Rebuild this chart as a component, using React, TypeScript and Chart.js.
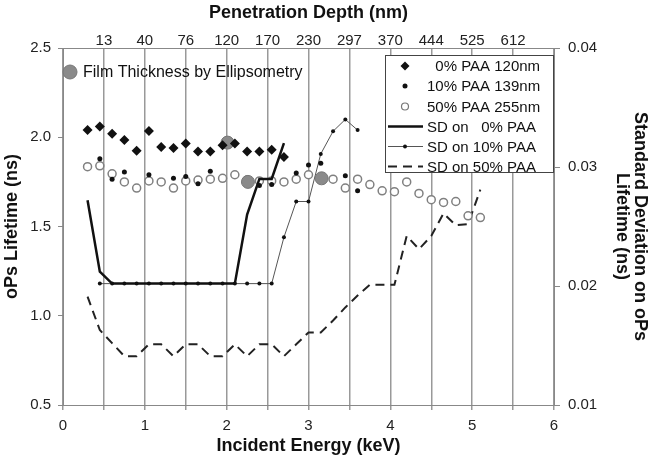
import React, { useEffect, useRef } from 'react';
import { Chart, registerables } from 'chart.js';

Chart.register(...registerables);

// ---------- data ----------
// 0% PAA 120nm (diamonds)
const E_PAA0 = [0.3, 0.45, 0.6, 0.75, 0.9, 1.05, 1.2, 1.35, 1.5, 1.65, 1.8, 1.95, 2.1, 2.25, 2.4, 2.55, 2.7];
const LT_PAA0 = [2.04, 2.06, 2.02, 1.985, 1.925, 2.035, 1.945, 1.94, 1.965, 1.92, 1.92, 1.955, 1.965, 1.92, 1.92, 1.93, 1.89];

// 10% PAA 139nm (small dots)
const E_PAA10 = [0.45, 0.6, 0.75, 1.05, 1.35, 1.5, 1.65, 1.8, 2.4, 2.55, 2.85, 3.0, 3.15, 3.45, 3.6];
const LT_PAA10 = [1.88, 1.765, 1.805, 1.79, 1.77, 1.78, 1.74, 1.81, 1.73, 1.735, 1.8, 1.845, 1.855, 1.785, 1.7];

// 50% PAA 255nm (open circles)
const E_PAA50 = [0.3, 0.45, 0.6, 0.75, 0.9, 1.05, 1.2, 1.35, 1.5, 1.65, 1.8, 1.95, 2.1, 2.25, 2.4, 2.55, 2.7,
  2.85, 3.0, 3.15, 3.3, 3.45, 3.6, 3.75, 3.9, 4.05, 4.2, 4.35, 4.5, 4.65, 4.8, 4.95, 5.1];
const LT_PAA50 = [1.835, 1.84, 1.795, 1.75, 1.715, 1.755, 1.75, 1.715, 1.755, 1.76, 1.765, 1.77, 1.79, 1.76, 1.755, 1.755, 1.75,
  1.765, 1.79, 1.765, 1.765, 1.715, 1.765, 1.735, 1.7, 1.695, 1.75, 1.685, 1.65, 1.635, 1.64, 1.56, 1.55];

// Film thickness by ellipsometry (grey circles)
const E_FILM = [2.01, 2.26, 3.16];
const LT_FILM = [1.97, 1.75, 1.77];

// Standard deviations (right axis)
const E_SD0 = [0.3, 0.45, 0.6, 0.75, 0.9, 1.05, 1.2, 1.35, 1.5, 1.65, 1.8, 1.95, 2.1, 2.25, 2.4, 2.55, 2.7];
const SD_PAA0 = [0.0272, 0.0212, 0.0202, 0.0202, 0.0202, 0.0202, 0.0202, 0.0202, 0.0202, 0.0202, 0.0202, 0.0202, 0.0202,
  0.026, 0.029, 0.029, 0.032];

const E_SD10 = [0.45, 0.6, 0.75, 0.9, 1.05, 1.2, 1.35, 1.5, 1.65, 1.8, 1.95, 2.1, 2.25, 2.4, 2.55, 2.7, 2.85, 3.0, 3.15, 3.3, 3.45, 3.6];
const SD_PAA10 = [0.0202, 0.0202, 0.0202, 0.0202, 0.0202, 0.0202, 0.0202, 0.0202, 0.0202, 0.0202, 0.0202, 0.0202, 0.0202, 0.0202, 0.0202,
  0.0241, 0.0271, 0.0271, 0.0311, 0.033, 0.034, 0.0331];

const E_SD50 = [0.3, 0.45, 0.6, 0.75, 0.9, 1.05, 1.2, 1.35, 1.5, 1.65, 1.8, 1.95, 2.1, 2.25, 2.4, 2.55, 2.7,
  2.85, 3.0, 3.15, 3.3, 3.45, 3.6, 3.75, 3.9, 4.05, 4.2, 4.35, 4.5, 4.65, 4.8, 4.95, 5.1];
const SD_PAA50 = [0.0191, 0.0163, 0.0152, 0.0141, 0.0141, 0.0151, 0.0151, 0.0141, 0.0151, 0.0151, 0.0141, 0.0141, 0.0151, 0.0141,
  0.0151, 0.0151, 0.0141, 0.0151, 0.0161, 0.0161, 0.0171, 0.0182, 0.0192, 0.0201, 0.0201, 0.0201, 0.0242, 0.0231, 0.0242,
  0.0261, 0.0251, 0.0252, 0.0281];

// Top axis (penetration depth) tick positions (keV) and labels (nm)
const DEPTH_TICK_E = [0.5, 1, 1.5, 2, 2.5, 3, 3.5, 4, 4.5, 5, 5.5];
const DEPTH_LABELS = ['13', '40', '76', '120', '170', '230', '297', '370', '444', '525', '612'];

const LEGEND_LABELS = ['  0% PAA 120nm', '10% PAA 139nm', '50% PAA 255nm', 'SD on   0% PAA', 'SD on 10% PAA', 'SD on 50% PAA'];
const FILM_LABEL = 'Film Thickness by Ellipsometry';

const FONT = "'Liberation Sans', Arial, sans-serif";
const pts = (xs: number[], ys: number[]) => xs.map((x, i) => ({ x, y: ys[i] }));

export default function App() {
  const ref = useRef<HTMLCanvasElement>(null);

  useEffect(() => {
    const canvas = ref.current!;
    Chart.defaults.font.family = FONT;

    const legendPlugin = {
      id: 'customLegend',
      afterDatasetsDraw(chart: any) {
        const ctx = chart.ctx as CanvasRenderingContext2D;
        ctx.save();
        // film legend
        ctx.beginPath();
        ctx.arc(70, 72, 7, 0, Math.PI * 2);
        ctx.fillStyle = '#8a8a8a';
        ctx.fill();
        ctx.lineWidth = 1;
        ctx.strokeStyle = '#777';
        ctx.stroke();
        ctx.fillStyle = '#111';
        ctx.font = `16px ${FONT}`;
        ctx.textAlign = 'left';
        ctx.textBaseline = 'middle';
        ctx.fillText(FILM_LABEL, 83, 73);

        // main legend box
        const bx = 385, by = 55, bw = 168, bh = 117;
        ctx.fillStyle = '#fff';
        ctx.fillRect(bx, by, bw, bh);
        ctx.strokeStyle = '#444';
        ctx.lineWidth = 1;
        ctx.strokeRect(bx + 0.5, by + 0.5, bw, bh);

        const rows = [66, 86, 106.5, 126.5, 146.5, 166.5];
        const mx = 405;
        // diamond
        ctx.fillStyle = '#111';
        ctx.beginPath();
        ctx.moveTo(mx, rows[0] - 4.5);
        ctx.lineTo(mx + 4.5, rows[0]);
        ctx.lineTo(mx, rows[0] + 4.5);
        ctx.lineTo(mx - 4.5, rows[0]);
        ctx.closePath();
        ctx.fill();
        // dot
        ctx.beginPath();
        ctx.arc(mx, rows[1], 2.5, 0, Math.PI * 2);
        ctx.fill();
        // open circle
        ctx.beginPath();
        ctx.arc(mx, rows[2], 3.5, 0, Math.PI * 2);
        ctx.strokeStyle = '#777';
        ctx.lineWidth = 1.2;
        ctx.stroke();
        // thick line
        ctx.beginPath();
        ctx.moveTo(388, rows[3]);
        ctx.lineTo(423, rows[3]);
        ctx.strokeStyle = '#111';
        ctx.lineWidth = 2.5;
        ctx.stroke();
        // thin line with dot
        ctx.beginPath();
        ctx.moveTo(388, rows[4]);
        ctx.lineTo(423, rows[4]);
        ctx.strokeStyle = '#555';
        ctx.lineWidth = 1;
        ctx.stroke();
        ctx.beginPath();
        ctx.arc(mx, rows[4], 2, 0, Math.PI * 2);
        ctx.fillStyle = '#111';
        ctx.fill();
        // dashed
        ctx.beginPath();
        ctx.setLineDash([9, 6]);
        ctx.moveTo(388, rows[5]);
        ctx.lineTo(423, rows[5]);
        ctx.strokeStyle = '#222';
        ctx.lineWidth = 2;
        ctx.stroke();
        ctx.setLineDash([]);

        ctx.fillStyle = '#111';
        ctx.font = `15px ${FONT}`;
        LEGEND_LABELS.forEach((t, i) => ctx.fillText(t, 427, rows[i] + 1));
        ctx.restore();
      },
    };

    const tickFont = { family: FONT, size: 15 };
    const titleFont = { family: FONT, size: 18, weight: 'bold' as const };
    const rightTitleFont = { family: FONT, size: 18, weight: 'bold' as const, lineHeight: 1 };
    const axisColor = '#888';

    const chart = new Chart(canvas, {
      type: 'scatter',
      data: {
        datasets: [
          {
            label: '0% PAA 120nm',
            data: pts(E_PAA0, LT_PAA0),
            xAxisID: 'x', yAxisID: 'y',
            pointStyle: 'rectRot', pointRadius: 5, backgroundColor: '#111', borderColor: '#111', borderWidth: 0,
            showLine: false, order: 2,
          },
          {
            label: 'Film Thickness by Ellipsometry',
            data: pts(E_FILM, LT_FILM),
            xAxisID: 'x', yAxisID: 'y',
            pointStyle: 'circle', pointRadius: 6.5, backgroundColor: '#8a8a8a', borderColor: '#777', borderWidth: 1,
            showLine: false, order: 3,
          },
          {
            label: '10% PAA 139nm',
            data: pts(E_PAA10, LT_PAA10),
            xAxisID: 'x', yAxisID: 'y',
            pointStyle: 'circle', pointRadius: 2.5, backgroundColor: '#111', borderColor: '#111', borderWidth: 0,
            showLine: false, order: 4,
          },
          {
            label: '50% PAA 255nm',
            data: pts(E_PAA50, LT_PAA50),
            xAxisID: 'x', yAxisID: 'y',
            pointStyle: 'circle', pointRadius: 4, backgroundColor: '#fff', borderColor: '#808080', borderWidth: 1.5,
            showLine: false, order: 5,
          },
          {
            label: 'SD on 0% PAA',
            data: pts(E_SD0, SD_PAA0),
            xAxisID: 'x', yAxisID: 'y2',
            showLine: true, borderColor: '#111', borderWidth: 2.5, pointRadius: 0, tension: 0, order: 1,
          },
          {
            label: 'SD on 10% PAA',
            data: pts(E_SD10, SD_PAA10),
            xAxisID: 'x', yAxisID: 'y2',
            showLine: true, borderColor: '#555', borderWidth: 1, pointRadius: 2, pointBackgroundColor: '#111',
            pointBorderWidth: 0, tension: 0, order: 6,
          },
          {
            label: 'SD on 50% PAA',
            data: pts(E_SD50, SD_PAA50),
            xAxisID: 'x', yAxisID: 'y2',
            showLine: true, borderColor: '#222', borderWidth: 2, borderDash: [9, 6], pointRadius: 0, tension: 0, order: 7,
          },
        ],
      },
      options: {
        responsive: false,
        animation: false,
        layout: { padding: 0 },
        plugins: { legend: { display: false }, tooltip: { enabled: false } },
        scales: {
          x: {
            type: 'linear', position: 'bottom', min: 0, max: 6,
            ticks: {
              stepSize: 0.5, autoSkip: false, maxRotation: 0, font: tickFont, color: '#222', padding: 7,
              callback: (v: any) => (Number.isInteger(v) ? String(v) : ''),
            },
            grid: { display: true, drawOnChartArea: true, drawTicks: true, tickLength: 5, color: '#999', lineWidth: 1.5 },
            border: { display: true, color: axisColor, width: 1 },
            title: { display: true, text: 'Incident Energy (keV)', font: titleFont, color: '#111', padding: { top: 0, bottom: 2 } },
            afterFit: (s: any) => { s.height = 54; },
          },
          x2: {
            type: 'linear', position: 'top', min: 0, max: 6,
            afterBuildTicks: (s: any) => { s.ticks = DEPTH_TICK_E.map((v) => ({ value: v })); },
            ticks: {
              autoSkip: false, maxRotation: 0, font: tickFont, color: '#222', padding: -2,
              callback: (_v: any, i: number) => DEPTH_LABELS[i],
            },
            grid: { display: false, drawTicks: false },
            border: { display: true, color: axisColor, width: 1 },
            title: { display: true, text: 'Penetration Depth (nm)', font: titleFont, color: '#111', padding: { top: 2, bottom: 0 } },
            afterFit: (s: any) => { s.height = 48; },
          },
          y: {
            type: 'linear', position: 'left', min: 0.5, max: 2.5,
            ticks: { stepSize: 0.5, font: tickFont, color: '#222', padding: 7, callback: (v: any) => Number(v).toFixed(1) },
            grid: { display: true, drawOnChartArea: false, drawTicks: true, tickLength: 5, color: axisColor },
            border: { display: true, color: axisColor, width: 1 },
            title: { display: true, text: 'oPs Lifetime (ns)', font: titleFont, color: '#111', padding: { top: 1, bottom: 0 } },
            afterFit: (s: any) => { s.width = 63; },
          },
          y2: {
            type: 'linear', position: 'right', min: 0.01, max: 0.04,
            ticks: { stepSize: 0.01, font: tickFont, color: '#222', padding: 8, callback: (v: any) => Number(v).toFixed(2) },
            grid: { display: true, drawOnChartArea: false, drawTicks: true, tickLength: 6, color: axisColor },
            border: { display: true, color: axisColor, width: 1 },
            title: {
              display: true, text: ['Standard Deviation on oPs', 'Lifetime (ns)'], font: rightTitleFont, color: '#111',
              padding: { top: 1, bottom: 0 },
            },
            afterFit: (s: any) => { s.width = 96; },
          },
        },
      },
      plugins: [legendPlugin],
    } as any);

    return () => chart.destroy();
  }, []);

  return (
    <div style={{ position: 'fixed', left: 0, top: 0, width: 650, height: 459, background: '#fff' }}>
      <canvas ref={ref} width={650} height={459} style={{ width: 650, height: 459, display: 'block' }} />
    </div>
  );
}
